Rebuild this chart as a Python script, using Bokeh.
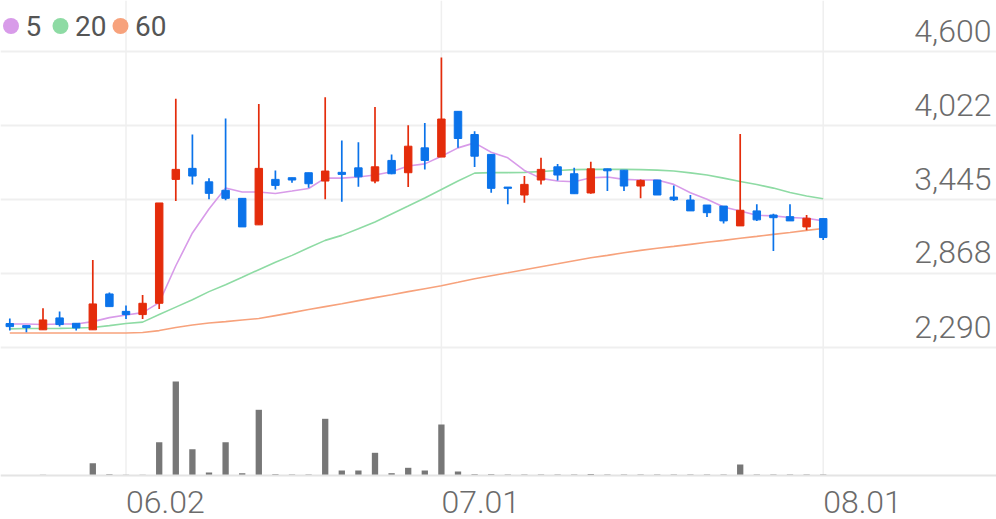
from bokeh.plotting import figure
from bokeh.models import Range1d, FixedTicker, Grid, Span, ColumnDataSource
from bokeh.core.properties import value
from bokeh.embed import file_html
from bokeh.resources import INLINE

# ---------------- data ----------------
opens = [2477, 2461, 2428, 2521, 2479, 2428, 2708, 2572, 2547, 2635,
         3602, 3688, 3583, 3517, 3454, 3247, 3602, 3615, 3654, 3589,
         3657, 3692, 3589, 3750, 3654, 3848, 3776, 4133, 3952, 3797,
         3542, 3480, 3597, 3700, 3646, 3496, 3684, 3674, 3550, 3597,
         3464, 3441, 3402, 3394, 3239, 3356, 3324, 3311, 3231, 3296]
highs = [2516, 2461, 2596, 2570, 2479, 2972, 2720, 2617, 2700, 3418,
         4232, 3952, 3610, 4077, 3454, 4190, 3672, 3615, 3654, 4242,
         3905, 3892, 4167, 3797, 4024, 4042, 4553, 4133, 3978, 3797,
         3542, 3628, 3770, 3723, 3692, 3739, 3684, 3674, 3602, 3597,
         3555, 3480, 3402, 3394, 3957, 3408, 3334, 3408, 3324, 3296]
lows = [2422, 2409, 2428, 2453, 2422, 2428, 2609, 2513, 2513, 2591,
        3433, 3563, 3447, 3439, 3231, 3247, 3524, 3576, 3537, 3447,
        3428, 3545, 3571, 3643, 3542, 3680, 3776, 3848, 3698, 3498,
        3408, 3420, 3563, 3594, 3490, 3490, 3511, 3511, 3454, 3480,
        3433, 3356, 3309, 3257, 3239, 3278, 3044, 3278, 3205, 3128]
closes = [2453, 2446, 2505, 2469, 2443, 2630, 2609, 2547, 2635, 3418,
          3680, 3628, 3493, 3454, 3231, 3688, 3555, 3597, 3568, 3667,
          3641, 3622, 3700, 3646, 3861, 3750, 4073, 3921, 3783, 3532,
          3532, 3563, 3680, 3636, 3490, 3684, 3669, 3550, 3594, 3480,
          3443, 3356, 3342, 3278, 3361, 3286, 3303, 3278, 3299, 3148]
volumes = [2, 2, 8, 3, 3, 123, 12, 8, 8, 333,
           940, 263, 30, 333, 23, 657, 13, 10, 10, 567,
           50, 50, 227, 23, 77, 50, 510, 40, 13, 13,
           10, 10, 10, 10, 10, 15, 10, 10, 10, 10,
           10, 10, 10, 10, 110, 10, 10, 10, 10, 10]
ma5 = [2473, 2473, 2469, 2473, 2473, 2492, 2523, 2543, 2562, 2640,
       2928, 3184, 3371, 3534, 3503, 3503, 3492, 3511, 3531, 3612,
       3612, 3620, 3636, 3661, 3706, 3723, 3783, 3848, 3887, 3814,
       3770, 3672, 3610, 3589, 3583, 3615, 3620, 3602, 3597, 3597,
       3563, 3498, 3447, 3387, 3356, 3322, 3317, 3304, 3299, 3278]
ma20 = [2435, 2438, 2438, 2439, 2442, 2446, 2461, 2477, 2488, 2547,
        2605, 2663, 2726, 2780, 2838, 2897, 2955, 3009, 3068, 3126,
        3165, 3216, 3270, 3332, 3394, 3457, 3523, 3589, 3651, 3655,
        3655, 3657, 3663, 3671, 3678, 3680, 3680, 3680, 3678, 3674,
        3667, 3653, 3636, 3612, 3585, 3562, 3534, 3499, 3472, 3451]
ma60 = [2403, 2403, 2403, 2403, 2403, 2403, 2403, 2403, 2407, 2422,
        2446, 2465, 2481, 2492, 2504, 2516, 2539, 2562, 2586, 2609,
        2632, 2656, 2679, 2702, 2726, 2749, 2772, 2799, 2827, 2850,
        2873, 2897, 2920, 2943, 2967, 2990, 3009, 3029, 3048, 3064,
        3079, 3095, 3111, 3126, 3142, 3157, 3173, 3188, 3204, 3219]
ma_labels = ["5", "20", "60"]
ma_colors = ["#d89be9", "#8edba4", "#f7a27c"]
price_ticks = [2290, 2868, 3445, 4022, 4600]
price_tick_labels = ["2,290", "2,868", "3,445", "4,022", "4,600"]
date_tick_idx = [7, 26, 49]
date_tick_labels = ["06.02", "07.01", "08.01"]

RED = "#e42c0b"
BLUE = "#0b73ea"
VOL_COLOR = "#777777"
LABEL_COLOR = "#6b6b6b"

n = len(closes)
idx = list(range(n))

# ---------------- layout (pixel geometry) ----------------
W, H = 996, 519
STEP = 16.6                # px per candle
FIRST_PX = 9.3             # x of first candle
TOP_GRID_PX, BOTTOM_GRID_PX = 51, 347
VOL_BASE_PX, VOL_MAX_PX = 475, 381
LABEL_ABOVE_GRID = 21      # price label centre above its grid line (px)

xs = -FIRST_PX / STEP
xe = xs + W / STEP
upp = (price_ticks[-1] - price_ticks[0]) / (BOTTOM_GRID_PX - TOP_GRID_PX)
y_hi = price_ticks[-1] + TOP_GRID_PX * upp
y_lo = y_hi - H * upp
vpp = max(volumes) / (VOL_BASE_PX - VOL_MAX_PX)
v_lo = -(H - VOL_BASE_PX) * vpp
v_hi = v_lo + H * vpp


def px_x(px):
    return xs + px / STEP


def px_y(py):
    return y_hi - py * upp


p = figure(width=W, height=H, x_range=Range1d(xs, xe), y_range=Range1d(y_lo, y_hi),
           output_backend="svg", toolbar_location=None,
           x_axis_location=None, y_axis_location=None,
           min_border=0, outline_line_color=None,
           background_fill_color="white", border_fill_color="white")
p.grid.visible = False
p.extra_y_ranges = {"vol": Range1d(v_lo, v_hi)}

p.add_layout(Grid(dimension=1, ticker=FixedTicker(ticks=price_ticks),
                  grid_line_color="#efefef", grid_line_width=2))

# vertical date grid lines (from volume baseline to top)
p.segment(x0=date_tick_idx, y0=[0] * len(date_tick_idx), x1=date_tick_idx,
          y1=[v_hi] * len(date_tick_idx), y_range_name="vol",
          line_color="#efefef", line_width=1.5)

# volume
p.vbar(x=idx, width=0.38, top=volumes, bottom=0, y_range_name="vol",
       fill_color=VOL_COLOR, line_color=None)
p.add_layout(Span(location=0, dimension="width", y_range_name="vol",
                  line_color="#e4e4e4", line_width=2))

# moving averages
for vals, col in zip([ma60, ma20, ma5], [ma_colors[2], ma_colors[1], ma_colors[0]]):
    p.line(idx, vals, line_color=col, line_width=1.6)

# candles
colors = [RED if c >= o else BLUE for o, c in zip(opens, closes)]
src = ColumnDataSource(dict(
    x=idx, h=highs, l=lows,
    top=[max(o, c) for o, c in zip(opens, closes)],
    bottom=[min(o, c) for o, c in zip(opens, closes)],
    color=colors))
p.segment(x0="x", y0="h", x1="x", y1="l", source=src, line_color="color", line_width=1.7)
p.vbar(x="x", width=0.45, top="top", bottom="bottom", source=src,
       fill_color="color", line_color="color", line_width=1)

# price labels (above their grid lines, right aligned)
p.text(x=[xe] * len(price_ticks), y=[t + LABEL_ABOVE_GRID * upp for t in price_ticks],
       text=price_tick_labels, x_offset=-5, text_align="right", text_baseline="middle",
       text_font=value("Roboto Light"), text_font_size="32px", text_color=LABEL_COLOR)

# date labels (left aligned at their grid line)
p.text(x=date_tick_idx, y=[px_y(501)] * len(date_tick_idx), text=date_tick_labels,
       text_align="left", text_baseline="middle",
       text_font=value("Roboto Light"), text_font_size="32px", text_color=LABEL_COLOR)

# legend
leg_circle_px = [10.5, 60, 120]
leg_text_px = [25, 74.5, 134.5]
p.scatter(x=[px_x(v) for v in leg_circle_px], y=[px_y(25.5)] * 3, size=16,
          marker="circle", fill_color=ma_colors, line_color=None)
p.text(x=[px_x(v) for v in leg_text_px], y=[px_y(25)] * 3, text=ma_labels,
       text_align="left", text_baseline="middle",
       text_font=value("Roboto"), text_font_size="28px", text_color="#555555")

open("out.html", "w").write(file_html(p, INLINE))
